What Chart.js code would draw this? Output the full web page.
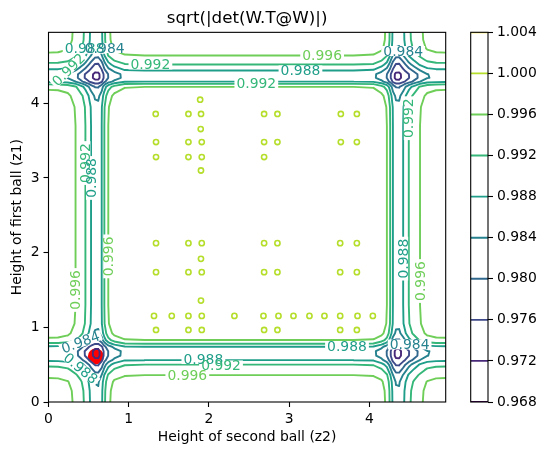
<!DOCTYPE html>
<html>
<head>
<meta charset="utf-8">
<script src="https://cdn.jsdelivr.net/npm/chart.js@4"></script>
<style>
  html, body { margin: 0; padding: 0; background: #fff; }
  #wrap { position: relative; width: 547px; height: 455px; }
  #wrap canvas { position: absolute; left: 0; top: 0; }
</style>
</head>
<body>
<div id="wrap">
  <canvas id="main" width="547" height="455"></canvas>
  <canvas id="cbar" width="547" height="455"></canvas>
</div>
<script>
// --- data ---

// sample positions along z2 (x) and the det factor seen along that direction
const z2Grid = [0, 0.12, 0.24, 0.337, 0.40, 0.46, 0.53, 0.58, 0.62, 0.663, 0.696, 0.745, 0.82, 0.95, 1.2,
                2.5, 3.8, 4.05, 4.15, 4.217, 4.258, 4.292, 4.33, 4.37, 4.42, 4.49, 4.56, 4.63, 4.72, 4.83, 4.95];
const z2Factor = [0.9990, 0.9989, 0.9982, 0.99625, 0.9945, 0.99225, 0.98825, 0.9858, 0.9856, 0.98825, 0.99225, 0.99625, 0.9985, 0.9995, 0.99975,
                  0.99975, 0.99975, 0.9995, 0.9985, 0.99625, 0.99225, 0.98825, 0.9857, 0.9856, 0.98825, 0.99225, 0.9945, 0.99625, 0.9982, 0.9989, 0.9990];

// sample positions along z1 (y) and the det factor seen along that direction
const z1Grid = [0, 0.15, 0.27, 0.36, 0.43, 0.50, 0.56, 0.62, 0.68, 0.74, 0.78, 0.83, 0.92, 1.05, 1.3,
                2.5, 3.7, 3.95, 4.1, 4.22, 4.26, 4.29, 4.34, 4.39, 4.44, 4.52, 4.58, 4.64, 4.74, 4.85, 4.95];
const z1Factor = [0.9990, 0.9988, 0.9980, 0.99625, 0.9944, 0.99225, 0.98825, 0.9857, 0.9856, 0.98825, 0.99225, 0.99625, 0.9985, 0.9995, 0.99975,
                  0.99975, 0.99975, 0.9995, 0.9985, 0.99625, 0.99225, 0.98825, 0.9856, 0.9857, 0.98825, 0.99225, 0.9944, 0.99625, 0.9982, 0.9989, 0.9990];

// the four deep crossings, and the extra dip seen around them (by distance)
const crossZ2 = [0.62, 0.62, 4.35, 4.35];
const crossZ1 = [0.655, 4.365, 0.655, 4.365];
const dipRadius = [0, 0.08, 0.16, 0.24, 0.32];
const dipFactor = [1.0, 0.999, 0.9975, 0.9985, 1.0];

// small closed 1.000 contours (islands) in the middle
const islandZ2 = [1.89,
  1.336, 1.744, 1.901, 2.687, 2.853, 3.643, 3.843,
  1.897,
  1.340, 1.744, 1.910, 2.687, 2.853, 3.643, 3.843,
  1.340, 1.744, 1.910, 2.687,
  1.90,
  1.340, 1.744, 1.910, 2.687, 2.853, 3.635, 3.843,
  1.90,
  1.340, 1.744, 1.910, 2.687, 2.853, 3.635, 3.843,
  1.90,
  1.315, 1.536, 1.744, 1.910, 2.317, 2.679, 2.866, 3.053, 3.252, 3.439, 3.635, 3.851, 4.042,
  1.340, 1.744, 1.910, 2.687, 2.853, 3.635, 3.843];
const islandZ1 = [4.048,
  3.857, 3.857, 3.857, 3.857, 3.857, 3.857, 3.857,
  3.655,
  3.481, 3.481, 3.481, 3.481, 3.481, 3.481, 3.481,
  3.28, 3.28, 3.28, 3.28,
  3.10,
  2.127, 2.127, 2.127, 2.127, 2.127, 2.127, 2.127,
  1.917,
  1.739, 1.739, 1.739, 1.739, 1.739, 1.739, 1.739,
  1.358,
  1.153, 1.153, 1.153, 1.153, 1.153, 1.153, 1.153, 1.153, 1.153, 1.153, 1.153, 1.153, 1.153,
  0.965, 0.965, 0.965, 0.965, 0.965, 0.965, 0.965];

// red start marker
const startZ2 = [0.59];
const startZ1 = [0.61];

const contourLevels = [0.968, 0.972, 0.976, 0.980, 0.984, 0.988, 0.992, 0.996, 1.000, 1.004];
const z2Ticks = [0, 1, 2, 3, 4];
const z1Ticks = [0, 1, 2, 3, 4];

// inline contour labels
const labelText = ['0.992', '0.996', '0.988', '0.992', '0.984', '0.988', '0.984', '0.992',
                   '0.992', '0.988', '0.996', '0.996', '0.992', '0.988', '0.996',
                   '0.988', '0.984', '0.996', '0.988', '0.992', '0.984', '0.988'];
const labelZ2 = [1.27, 3.41, 3.14, 2.59, 4.42, 0.45, 0.70, 0.25,
                 0.46, 0.53, 0.337, 0.745, 4.49, 4.42, 4.63,
                 3.72, 4.50, 1.73, 1.93, 2.15, 0.40, 0.40];
const labelZ1 = [4.52, 4.64, 4.44, 4.26, 4.70, 4.73, 4.74, 4.45,
                 3.20, 3.00, 1.50, 1.95, 3.80, 1.92, 1.62,
                 0.74, 0.77, 0.36, 0.575, 0.49, 0.80, 0.45];
const labelAngle = [0, 0, 0, 0, 0, 0, 0, 45,
                    90, 90, 90, 90, 90, 90, 90,
                    0, 0, 0, 0, 0, 20, -40];

// --- styling ---
const levelColors = ['#440154', '#482878', '#3e4989', '#31688e', '#26828e',
                     '#1f9e89', '#35b779', '#6ece58', '#b5de2b', '#fde725'];
const FONT = '"DejaVu Sans", "Liberation Sans", sans-serif';
const LINE_W = 1.9;
Chart.defaults.font.family = FONT;
Chart.defaults.color = '#000';

// piecewise lookup in a read-off table
function lookup(xs, ys, v) {
  if (v <= xs[0]) return ys[0];
  for (let i = 1; i < xs.length; i++) {
    if (v <= xs[i]) return ys[i - 1] + (ys[i] - ys[i - 1]) * (v - xs[i - 1]) / (xs[i] - xs[i - 1]);
  }
  return ys[ys.length - 1];
}

// table of values the contour pass walks over
const detTable = z1Grid.map((zy, j) => z2Grid.map((zx, i) => {
  let v = z2Factor[i] * z1Factor[j];
  crossZ2.forEach((cx, k) => {
    v *= lookup(dipRadius, dipFactor, Math.hypot(zx - cx, zy - crossZ1[k]));
  });
  return v;
}));

// marching squares over the rectilinear table
function contourSegments(xs, ys, z, level) {
  const segs = [];
  const cross = (xa, ya, va, xb, yb, vb) => {
    const t = (level - va) / (vb - va);
    return [xa + t * (xb - xa), ya + t * (yb - ya)];
  };
  for (let j = 0; j < ys.length - 1; j++) {
    for (let i = 0; i < xs.length - 1; i++) {
      const x0 = xs[i], x1 = xs[i + 1], y0 = ys[j], y1 = ys[j + 1];
      const v = [z[j][i], z[j][i + 1], z[j + 1][i + 1], z[j + 1][i]];
      const p = [[x0, y0], [x1, y0], [x1, y1], [x0, y1]];
      const hi = v.map(val => val > level);
      const e = [];
      for (let k = 0; k < 4; k++) {
        const n = (k + 1) % 4;
        e.push(hi[k] !== hi[n] ? cross(p[k][0], p[k][1], v[k], p[n][0], p[n][1], v[n]) : null);
      }
      const hits = e.filter(Boolean);
      if (hits.length === 2) {
        segs.push(hits);
      } else if (hits.length === 4) {
        const centre = (v[0] + v[1] + v[2] + v[3]) / 4 > level;
        if (centre === hi[0]) {
          segs.push([e[0], e[1]], [e[2], e[3]]);
        } else {
          segs.push([e[3], e[0]], [e[1], e[2]]);
        }
      }
    }
  }
  return segs;
}

const contourPlugin = {
  id: 'contours',
  afterDatasetsDraw(chart) {
    const { ctx, chartArea: a, scales: { x, y } } = chart;
    ctx.save();
    ctx.beginPath();
    ctx.rect(a.left, a.top, a.right - a.left, a.bottom - a.top);
    ctx.clip();
    ctx.lineWidth = LINE_W;
    ctx.lineJoin = 'round';
    ctx.lineCap = 'round';
    contourLevels.forEach((level, k) => {
      const segs = contourSegments(z2Grid, z1Grid, detTable, level);
      if (!segs.length) return;
      ctx.strokeStyle = levelColors[k];
      ctx.beginPath();
      segs.forEach(([s, t]) => {
        ctx.moveTo(x.getPixelForValue(s[0]), y.getPixelForValue(s[1]));
        ctx.lineTo(x.getPixelForValue(t[0]), y.getPixelForValue(t[1]));
      });
      ctx.stroke();
    });

    // labels sit on a white gap cut into the line: gaps first, then all texts
    ctx.font = '13.9px ' + FONT;
    ctx.textAlign = 'center';
    ctx.textBaseline = 'middle';
    const place = (i, draw) => {
      ctx.save();
      ctx.translate(x.getPixelForValue(labelZ2[i]), y.getPixelForValue(labelZ1[i]));
      ctx.rotate(-labelAngle[i] * Math.PI / 180);
      draw();
      ctx.restore();
    };
    labelText.forEach((txt, i) => {
      const w = ctx.measureText(txt).width;
      place(i, () => {
        ctx.fillStyle = '#fff';
        ctx.fillRect(-w / 2 - 2, -5, w + 4, 10);
      });
    });
    labelText.forEach((txt, i) => {
      const k = contourLevels.findIndex(l => l.toFixed(3) === txt);
      place(i, () => {
        ctx.fillStyle = levelColors[k];
        ctx.fillText(txt, 0, 1);
      });
    });
    ctx.restore();
  },
  afterDraw(chart) {
    const { ctx, chartArea: a } = chart;
    ctx.save();
    ctx.strokeStyle = '#000';
    ctx.lineWidth = 1.1;
    ctx.strokeRect(a.left, a.top, a.right - a.left, a.bottom - a.top);
    ctx.restore();
  }
};

const axisOpts = (ticks, title, fit, titlePad) => ({
  type: 'linear',
  min: 0,
  max: 4.95,
  afterBuildTicks: s => { s.ticks = ticks.map(v => ({ value: v })); },
  afterFit: fit,
  grid: { drawOnChartArea: false, tickLength: 5, tickColor: '#000', tickWidth: 1.1 },
  border: { display: false },
  ticks: { font: { size: 13.9 }, padding: 4, color: '#000', maxRotation: 0 },
  title: { display: true, text: title, font: { size: 13.9 }, color: '#000', padding: titlePad }
});

new Chart(document.getElementById('main'), {
  type: 'scatter',
  data: {
    datasets: [
      {
        label: 'start',
        data: startZ2.map((v, i) => ({ x: v, y: startZ1[i] })),
        pointRadius: 8,
        pointStyle: 'circle',
        backgroundColor: '#ff0000',
        borderColor: '#ff0000',
        borderWidth: 0
      },
      {
        label: '1.000',
        data: islandZ2.map((v, i) => ({ x: v, y: islandZ1[i] })),
        pointRadius: 2.6,
        pointStyle: 'circle',
        backgroundColor: 'rgba(0,0,0,0)',
        borderColor: levelColors[8],
        borderWidth: 1.6
      }
    ]
  },
  options: {
    responsive: false,
    devicePixelRatio: 1,
    animation: false,
    events: [],
    layout: { padding: { left: 0, right: 101.3, top: 0, bottom: 0 } },
    plugins: {
      legend: { display: false },
      tooltip: { enabled: false },
      title: {
        display: true,
        text: 'sqrt(|det(W.T@W)|)',
        fullSize: false,
        color: '#000',
        font: { size: 16.7, weight: 'normal' },
        padding: { top: 9, bottom: 3.3 }
      }
    },
    scales: {
      x: axisOpts(z2Ticks, 'Height of second ball (z2)', s => { s.height = 53; }, { top: 0, bottom: 9 }),
      y: axisOpts(z1Ticks, 'Height of first ball (z1)', s => { s.width = 48.5; }, { top: 9, bottom: 0 })
    }
  },
  plugins: [contourPlugin]
});

// --- colour bar ---
const framePlugin = {
  id: 'frame',
  afterDraw(chart) {
    const { ctx, chartArea: a } = chart;
    ctx.save();
    ctx.strokeStyle = '#000';
    ctx.lineWidth = 1.1;
    ctx.strokeRect(a.left, a.top, a.right - a.left, a.bottom - a.top);
    ctx.restore();
  }
};

new Chart(document.getElementById('cbar'), {
  type: 'scatter',
  data: {
    datasets: contourLevels.map((level, k) => ({
      label: level.toFixed(3),
      data: [{ x: 0, y: level }, { x: 1, y: level }],
      showLine: true,
      pointRadius: 0,
      borderColor: levelColors[k],
      borderWidth: LINE_W
    }))
  },
  options: {
    responsive: false,
    devicePixelRatio: 1,
    animation: false,
    events: [],
    layout: { padding: { left: 470.7, right: 0, top: 32.3, bottom: 53 } },
    plugins: { legend: { display: false }, tooltip: { enabled: false } },
    scales: {
      x: { type: 'linear', min: 0, max: 1, display: false },
      y: {
        type: 'linear',
        position: 'right',
        min: contourLevels[0],
        max: contourLevels[contourLevels.length - 1],
        afterBuildTicks: s => { s.ticks = contourLevels.map(v => ({ value: v })); },
        afterFit: s => { s.width = 59; },
        grid: { drawOnChartArea: false, tickLength: 5, tickColor: '#000', tickWidth: 1.1 },
        border: { display: false },
        ticks: { font: { size: 13.9 }, padding: 4, color: '#000', callback: v => v.toFixed(3) }
      }
    }
  },
  plugins: [framePlugin]
});
</script>
</body>
</html>
